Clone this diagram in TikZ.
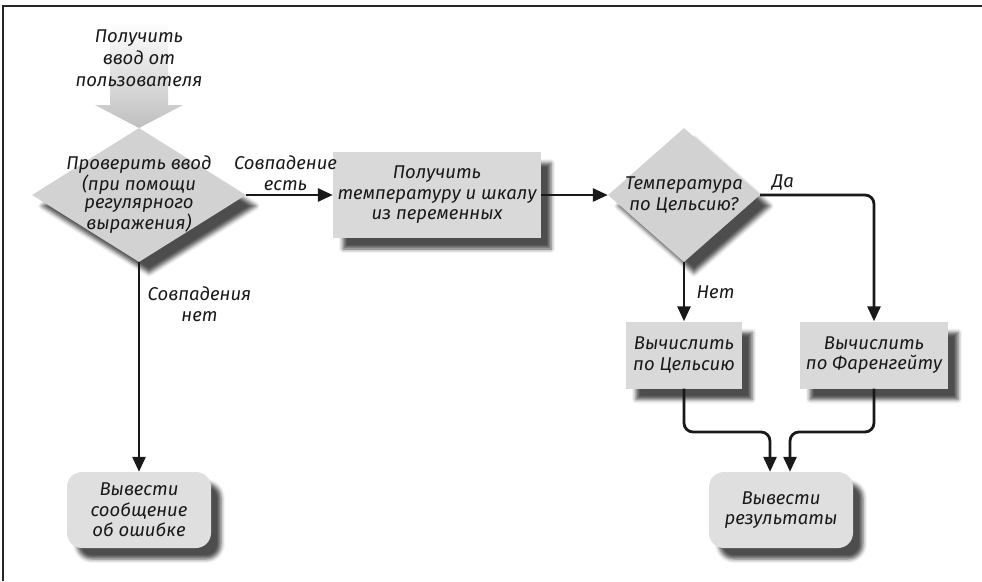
\documentclass[tikz,border=0pt]{standalone}
\usepackage{fontspec}
\setmainfont{Fira Sans}
\usetikzlibrary{arrows.meta,shapes.geometric,shadows.blur}

\begin{document}
\begin{tikzpicture}[x=1pt,y=-1pt]
            \tikzstyle{every node}=[font=\itshape\fontsize{18.5}{20.5}\selectfont, align=center, text=black!90]
            \tikzstyle{boxshadow}=[blur shadow={shadow xshift=10pt, shadow yshift=-11pt, shadow opacity=70, shadow blur radius=4pt}]
            \tikzstyle{decision}=[diamond, shape aspect=1.6, inner sep=-30pt, fill=gray!35, boxshadow]
            \tikzstyle{process}=[rectangle, minimum height=67pt, inner sep=2pt, fill=gray!30, boxshadow]
            \tikzstyle{terminal}=[rectangle, rounded corners=15pt, minimum width=144pt, minimum height=76pt, fill=gray!25, boxshadow]
            \tikzstyle{connect}=[line width=2.8pt, black!90, rounded corners=9pt, -{Triangle[length=15pt,width=13pt]}]
            \useasboundingbox (0,0) rectangle (982,581);
            \draw[line width=1.4pt, black!85] (3,581) -- (3,6) -- (982,6);

            % input arrow
            \shade[top color=white, bottom color=gray!50] (110,22) -- (168,22) -- (168,105) -- (183,105)
                -- (139,128) -- (95,105) -- (110,105) -- cycle;
            \node[font=\itshape\fontsize{18.5}{22}\selectfont] (input) at (139,58) {Получить\\ввод от\\пользователя};

            \node[decision, minimum width=214pt, minimum height=134pt] (check) at (139,195)
                {\raisebox{-7pt}{\renewcommand{\arraystretch}{0.88}\begin{tabular}{@{}c@{}}Проверить ввод\\(при помощи\\регулярного\\выражения)\end{tabular}}};
            \node[process, minimum width=208pt, minimum height=86pt] (temp) at (437,195) {Получить\\температуру и шкалу\\из переменных};
            \node[decision, minimum width=152pt, minimum height=134pt] (celsq) at (684,195) {Температура\\по Цельсию?};
            \node[process, minimum width=116pt] (cels) at (684,355) {Вычислить\\по Цельсию};
            \node[process, minimum width=148pt] (fahr) at (874,355) {Вычислить\\по Фаренгейту};
            \node[terminal] (error) at (139,510) {Вывести\\сообщение\\об ошибке};
            \node[terminal] (result) at (781,510) {Вывести\\результаты};
            \coordinate (merge) at (781,432);

            \draw[connect] (check.east) -- node[above, xshift=-4pt] {Совпадение\\есть} (temp.west);
            \draw[connect] (check.south) -- node[pos=0.2, right=4pt] {Совпадения\\нет} (error.north);
            \draw[connect] (temp.east) -- (celsq.west);
            \draw[connect] (celsq.east) -| node[pos=0.1, above] {Да} (fahr.north);
            \draw[connect] (celsq.south) -- node[right=8pt] {Нет} (cels.north);
            \draw[connect] (cels.south) |- ([xshift=-11pt]merge) -- ([xshift=-11pt]result.north);
            \draw[connect] (fahr.south) |- ([xshift=9pt]merge) -- ([xshift=9pt]result.north);

        \end{tikzpicture}
\end{document}
